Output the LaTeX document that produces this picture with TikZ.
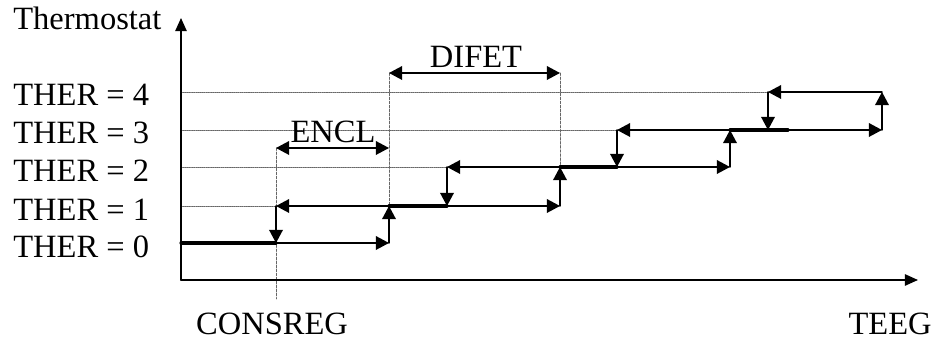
\documentclass[tikz,border=0pt]{standalone}
\usepackage{fontspec}
\setmainfont{Liberation Serif}
\usetikzlibrary{arrows.meta,calc}
\usepackage{tkz-euclide}
\definecolor{GuideClr}{rgb}{0.4,0.4,0.4}
\tikzset{
  axisline/.style={line width=0.9pt,color=black,-{Triangle[length=7.5pt,width=6.5pt]}},
  stepline/.style={line width=0.8pt,color=black},
  onearrow/.style={stepline,-{Triangle[length=7.5pt,width=7.8pt]}},
  twoarrow/.style={stepline,{Triangle[length=7.5pt,width=7.8pt]}-{Triangle[length=7.5pt,width=7.8pt]}},
  heavyline/.style={line width=1.8pt,color=black},
  hguide/.style={line width=0.55pt,color=GuideClr,dash pattern=on 0.6pt off 0.6pt},
  vguide/.style={line width=0.55pt,color=GuideClr,dash pattern=on 1.4pt off 0.9pt},
  lbl/.style={font=\fontsize{18.5}{22}\selectfont,inner sep=0pt}
}

\begin{document}
\begin{tikzpicture}[x=.02cm,y=.02cm]
\useasboundingbox (0,0) rectangle (934,340);

\tkzDefPoints{181/60/O,181/322/Y,918/60/X}
\tkzDefPoints{181/97/P0,181/134/P1,181/173/P2,181/210/P3,181/248/P4}
\tkzDefPoints{276/97/A0,276/134/A1,389/97/B0,389/134/B1}
\tkzDefPoints{447/134/C1,447/173/C2,560/134/E1,560/173/E2}
\tkzDefPoints{617/173/F2,617/210/F3,730/173/G2,730/210/G3}
\tkzDefPoints{768/210/H3,768/248/H4,882/210/K3,882/248/K4,788/210/M3}
\tkzDefPoints{276/41/Q,276/192/Ea,389/192/Eb,389/267/Da,560/267/Db}

\tkzDrawSegments[hguide](P1,A1 P2,C2 P3,F3 P4,H4)
\tkzDrawSegments[vguide](Ea,Q Da,B1 Db,E2)

\tkzDrawSegments[axisline](O,Y O,X)

\tkzDrawSegments[onearrow](A0,B0 K4,H4)
\tkzDrawSegments[twoarrow](A1,E1 C2,G2 F3,K3)
\tkzDrawSegments[onearrow](B0,B1 E1,E2 G2,G3 K3,K4)
\tkzDrawSegments[onearrow](A1,A0 C2,C1 F3,F2 H4,H3)

\tkzDrawSegments[heavyline](P0,A0 B1,C1 E2,F2 G3,M3)

\tkzDrawSegments[twoarrow](Ea,Eb Da,Db)

\node[lbl,anchor=base west] (thermo) at (13,310) {Thermostat};
\node[lbl,anchor=base west] (ther4) at (13,234) {THER = 4};
\node[lbl,anchor=base west] (ther3) at (13,196) {THER = 3};
\node[lbl,anchor=base west] (ther2) at (13,158) {THER = 2};
\node[lbl,anchor=base west] (ther1) at (13,119) {THER = 1};
\node[lbl,anchor=base west] (ther0) at (13,82) {THER = 0};
\node[lbl,anchor=base] (consreg) at (272,5) {CONSREG};
\node[lbl,anchor=base east] (teeg) at (932,5) {TEEG};
\node[lbl,anchor=base] (encl) at (333,197) {ENCL};
\node[lbl,anchor=base] (difet) at (476,272) {DIFET};

\end{tikzpicture}
\end{document}
